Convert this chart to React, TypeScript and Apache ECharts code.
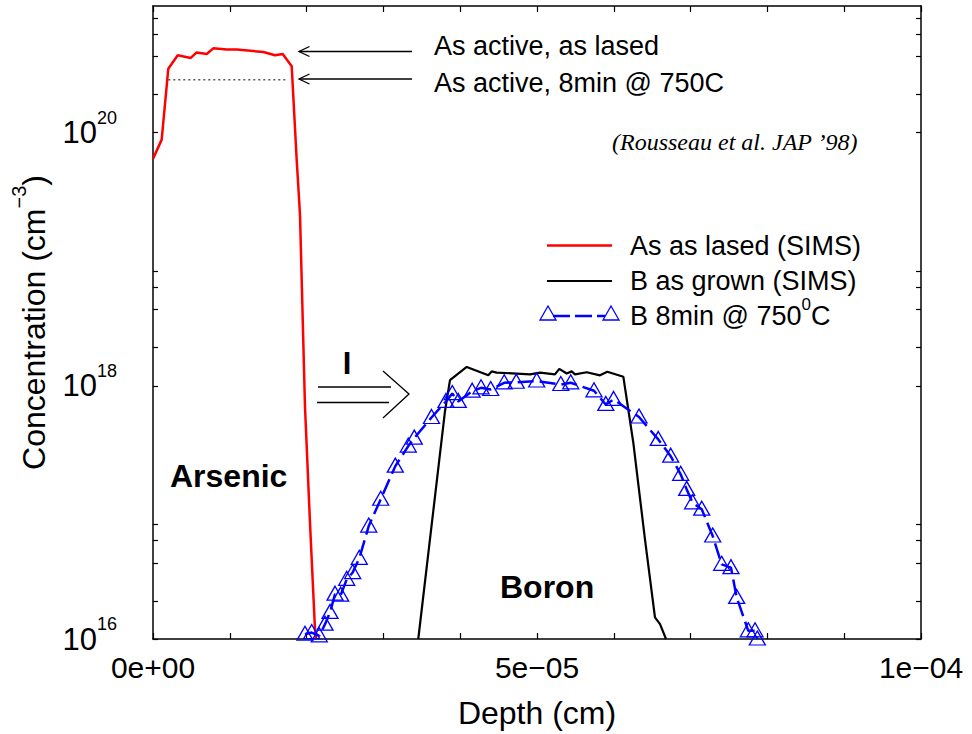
import React, { useEffect, useRef } from 'react';
import * as echarts from 'echarts';

// ---------- data ----------
// As as lased (SIMS)
const asLasedDepth = [0, 1.13e-6, 1.99e-6, 3.22e-6, 4.91e-6, 5.69e-6, 6.99e-6, 7.85e-6, 9.6e-6, 1.09e-5, 1.436e-5, 1.589e-5, 1.689e-5, 1.806e-5, 1.871e-5, 1.914e-5, 1.979e-5, 2.044e-5, 2.109e-5, 2.125e-5];
const asLasedConc = [6.2e19, 8.8e19, 3.19e20, 4.08e20, 3.89e20, 4.3e20, 4.18e20, 4.63e20, 4.53e20, 4.53e20, 4.33e20, 4.08e20, 4.18e20, 3.34e20, 6.1e19, 2.25e19, 6.85e17, 8.3e16, 1.2e16, 1.0e16];

// As active, 8min @ 750C (dotted level)
const asActiveDepth = [1.99e-6, 1.741e-5];
const asActiveConc = [2.61e20, 2.61e20];

// B as grown (SIMS)
const bGrownDepth = [3.454e-5, 3.802e-5, 3.867e-5, 4.085e-5, 4.366e-5, 4.41e-5, 4.475e-5, 4.736e-5, 4.909e-5, 5.039e-5, 5.234e-5, 5.29e-5, 5.387e-5, 5.452e-5, 5.495e-5, 5.647e-5, 5.82e-5, 5.915e-5, 6.124e-5, 6.254e-5, 6.406e-5, 6.536e-5, 6.602e-5, 6.68e-5];
const bGrownConc = [1.0e16, 6.3e17, 1.11e18, 1.41e18, 1.21e18, 1.3e18, 1.27e18, 1.25e18, 1.23e18, 1.27e18, 1.23e18, 1.36e18, 1.25e18, 1.3e18, 1.23e18, 1.28e18, 1.21e18, 1.29e18, 1.18e18, 3.55e17, 6.12e16, 1.48e16, 1.31e16, 1.0e16];

// B 8min @ 750C
const bAnnealDepth = [1.979e-5, 2.066e-5, 2.165e-5, 2.24e-5, 2.305e-5, 2.37e-5, 2.444e-5, 2.522e-5, 2.6e-5, 2.686e-5, 2.809e-5, 2.965e-5, 3.155e-5, 3.324e-5, 3.402e-5, 3.626e-5, 3.815e-5, 3.897e-5, 3.975e-5, 4.156e-5, 4.271e-5, 4.397e-5, 4.573e-5, 4.73e-5, 4.996e-5, 5.31e-5, 5.439e-5, 5.742e-5, 5.896e-5, 5.997e-5, 6.328e-5, 6.579e-5, 6.741e-5, 6.871e-5, 6.949e-5, 7.027e-5, 7.145e-5, 7.288e-5, 7.405e-5, 7.526e-5, 7.6e-5, 7.751e-5, 7.839e-5, 7.869e-5];
const bAnnealConc = [1.09e16, 1.125e16, 1.06e16, 1.31e16, 1.62e16, 2.26e16, 2.22e16, 2.96e16, 3.35e16, 4.34e16, 7.8e16, 1.27e17, 2.32e17, 3.34e17, 3.86e17, 5.62e17, 7.52e17, 8.69e17, 7.52e17, 9.06e17, 9.64e17, 9.35e17, 1.056e18, 1.067e18, 1.091e18, 1.024e18, 1.056e18, 9.13e17, 7.12e17, 7.8e17, 5.67e17, 3.77e17, 2.78e17, 2.0e17, 1.52e17, 1.19e17, 1.06e17, 6.51e16, 3.89e16, 3.66e16, 2.13e16, 1.16e16, 1.16e16, 1.0e16];

// axis ticks / labels
const xLabelValues = [0, 5e-5, 1e-4];
const xLabelTexts = ['0e+00', '5e\u221205', '1e\u221204'];
const yLabelValues = [1e16, 1e18, 1e20];
const yLabelExponents = ['16', '18', '20'];
const yTickMantissas = [1, 2, 4, 6, 8];
const yTickDecades = [1e16, 1e18, 1e20];

const zip = (xs: number[], ys: number[]) => xs.map((x, i) => [x, ys[i]]);

export default function App() {
  const ref = useRef<HTMLDivElement>(null);
  useEffect(() => {
    const chart = echarts.init(ref.current!, null, { renderer: 'svg' });
    const font = "'Liberation Sans', Arial, Helvetica, sans-serif";
    const yTickValues: number[] = [];
    yTickDecades.forEach((d) => yTickMantissas.forEach((m) => yTickValues.push(m * d)));

    const axisLine = { show: true, onZero: false, lineStyle: { color: '#000', width: 1.5 } };
    const xTick = { show: true, inside: true, length: 6, lineStyle: { color: '#000', width: 1.2 } };
    const yTick = { show: true, inside: true, length: 5, customValues: yTickValues, lineStyle: { color: '#000', width: 1.2 } };

    const xLabelFmt = (v: number) => {
      let best = 0;
      xLabelValues.forEach((xv, i) => {
        if (Math.abs(xv - v) < Math.abs(xLabelValues[best] - v)) best = i;
      });
      return xLabelTexts[best];
    };
    const yLabelFmt = (v: number) => {
      let best = 0;
      yLabelValues.forEach((yv, i) => {
        if (Math.abs(Math.log10(yv) - Math.log10(v)) < Math.abs(Math.log10(yLabelValues[best]) - Math.log10(v))) best = i;
      });
      return '{b|10}{e|' + yLabelExponents[best] + '}';
    };

    const option: any = {
      animation: false,
      backgroundColor: '#ffffff',
      textStyle: { fontFamily: font },
      grid: { left: 153, top: 6, right: 51, bottom: 94, containLabel: false },
      xAxis: [
        {
          type: 'value', min: 0, max: 1e-4, interval: 1e-5, position: 'bottom',
          axisLine, axisTick: xTick,
          axisLabel: { show: true, customValues: xLabelValues, formatter: xLabelFmt, margin: 13, fontSize: 30, color: '#000', fontFamily: font },
          splitLine: { show: false },
          name: 'Depth (cm)', nameLocation: 'middle', nameGap: 58,
          nameTextStyle: { fontSize: 32, color: '#000', fontFamily: font },
        },
        {
          type: 'value', min: 0, max: 1e-4, interval: 1e-5, position: 'top',
          axisLine, axisTick: xTick, axisLabel: { show: false }, splitLine: { show: false },
        },
      ],
      yAxis: [
        {
          type: 'log', logBase: 10, min: 1e16, max: 1e21, position: 'left',
          axisLine, axisTick: yTick, minorTick: { show: false },
          axisLabel: {
            show: true, customValues: yLabelValues, formatter: yLabelFmt, margin: 36, color: '#000',
            rich: {
              b: { fontSize: 31, lineHeight: 48, verticalAlign: 'middle', fontFamily: font, color: '#000' },
              e: { fontSize: 18, verticalAlign: 'top', fontFamily: font, color: '#000' },
            },
          },
          splitLine: { show: false },
          name: '{t|Concentration (cm}{s|\u22123}{t|)}', nameLocation: 'middle', nameRotate: 90, nameGap: 94,
          nameTextStyle: {
            color: '#000',
            rich: {
              t: { fontSize: 32, lineHeight: 50, verticalAlign: 'middle', fontFamily: font, color: '#000' },
              s: { fontSize: 20, verticalAlign: 'top', fontFamily: font, color: '#000' },
            },
          },
        },
        {
          type: 'log', logBase: 10, min: 1e16, max: 1e21, position: 'right',
          axisLine, axisTick: yTick, minorTick: { show: false }, axisLabel: { show: false }, splitLine: { show: false },
        },
      ],
      series: [
        {
          name: 'As active, 8min @ 750C', type: 'line', data: zip(asActiveDepth, asActiveConc), symbol: 'none', silent: true,
          lineStyle: { color: '#555', width: 1.5, type: [2, 3] },
        },
        {
          name: 'As as lased (SIMS)', type: 'line', data: zip(asLasedDepth, asLasedConc), symbol: 'none', silent: true,
          lineStyle: { color: '#ff0000', width: 2.5 },
        },
        {
          name: 'B as grown (SIMS)', type: 'line', data: zip(bGrownDepth, bGrownConc), symbol: 'none', silent: true,
          lineStyle: { color: '#000', width: 2.2 },
        },
        {
          name: 'B 8min @ 750C', type: 'line', data: zip(bAnnealDepth, bAnnealConc), silent: true,
          symbol: 'triangle', symbolSize: [16, 14], symbolOffset: [0, -1], showAllSymbol: true,
          itemStyle: { color: 'rgba(0,0,0,0)', borderColor: '#0000ff', borderWidth: 1.3 },
          lineStyle: { color: '#0000ff', width: 2.5, type: [16, 6] },
        },
      ],
      graphic: [
        // top annotations
        { type: 'line', shape: { x1: 412, y1: 51.5, x2: 299, y2: 51.5 }, style: { stroke: '#000', lineWidth: 1.3 } },
        { type: 'polyline', shape: { points: [[309.5, 46.5], [299, 51.5], [309.5, 56.5]] }, style: { stroke: '#000', fill: 'none', lineWidth: 1.3 } },
        { type: 'line', shape: { x1: 412, y1: 79, x2: 299, y2: 79 }, style: { stroke: '#000', lineWidth: 1.3 } },
        { type: 'polyline', shape: { points: [[309.5, 74], [299, 79], [309.5, 84]] }, style: { stroke: '#000', fill: 'none', lineWidth: 1.3 } },
        { type: 'text', x: 434, y: 46, style: { text: 'As active, as lased', fontSize: 27, fontFamily: font, fill: '#000', align: 'left', verticalAlign: 'middle' } },
        { type: 'text', x: 434, y: 83, style: { text: 'As active, 8min @ 750C', fontSize: 27, fontFamily: font, fill: '#000', align: 'left', verticalAlign: 'middle' } },
        { type: 'text', x: 612, y: 142, style: { text: '(Rousseau et al. JAP \u201998)', fontSize: 24, fontStyle: 'italic', fontFamily: "'Liberation Serif', 'Times New Roman', serif", fill: '#000', align: 'left', verticalAlign: 'middle' } },
        // legend
        { type: 'line', shape: { x1: 547, y1: 245.5, x2: 612, y2: 245.5 }, style: { stroke: '#ff0000', lineWidth: 2.5 } },
        { type: 'line', shape: { x1: 547, y1: 281, x2: 612, y2: 281 }, style: { stroke: '#000', lineWidth: 2.2 } },
        { type: 'line', shape: { x1: 553, y1: 316, x2: 605, y2: 316 }, style: { stroke: '#0000ff', lineWidth: 2.5, lineDash: [17, 5] } },
        { type: 'polygon', shape: { points: [[548, 306], [556, 320], [540, 320]] }, style: { stroke: '#0000ff', fill: 'none', lineWidth: 1.3 } },
        { type: 'polygon', shape: { points: [[611, 306], [619, 320], [603, 320]] }, style: { stroke: '#0000ff', fill: 'none', lineWidth: 1.3 } },
        { type: 'text', x: 630, y: 245.5, style: { text: 'As as lased (SIMS)', fontSize: 27, fontFamily: font, fill: '#000', align: 'left', verticalAlign: 'middle' } },
        { type: 'text', x: 630, y: 281, style: { text: 'B as grown (SIMS)', fontSize: 27, fontFamily: font, fill: '#000', align: 'left', verticalAlign: 'middle' } },
        {
          type: 'text', x: 630, y: 316,
          style: {
            text: '{n|B 8min @ 750}{s|0}{n|C}', fill: '#000', align: 'left', verticalAlign: 'middle',
            rich: {
              n: { fontSize: 27, lineHeight: 40, verticalAlign: 'middle', fontFamily: font, fill: '#000' },
              s: { fontSize: 17, verticalAlign: 'top', fontFamily: font, fill: '#000' },
            },
          },
        },
        // region labels
        { type: 'text', x: 170, y: 476, style: { text: 'Arsenic', fontSize: 32, fontWeight: 'bold', fontFamily: font, fill: '#000', align: 'left', verticalAlign: 'middle' } },
        { type: 'text', x: 500, y: 587, style: { text: 'Boron', fontSize: 32, fontWeight: 'bold', fontFamily: font, fill: '#000', align: 'left', verticalAlign: 'middle' } },
        { type: 'text', x: 347, y: 363, style: { text: 'I', fontSize: 31, fontWeight: 'bold', fontFamily: font, fill: '#000', align: 'center', verticalAlign: 'middle' } },
        // double arrow
        { type: 'line', shape: { x1: 318, y1: 387, x2: 391, y2: 387 }, style: { stroke: '#000', lineWidth: 1.3 } },
        { type: 'line', shape: { x1: 317, y1: 402.5, x2: 389, y2: 402.5 }, style: { stroke: '#000', lineWidth: 1.3 } },
        { type: 'polyline', shape: { points: [[383, 371], [409, 394], [383, 418]] }, style: { stroke: '#000', fill: 'none', lineWidth: 1.3 } },
      ],
    };
    chart.setOption(option);
    return () => chart.dispose();
  }, []);
  return (
    <div
      ref={ref}
      style={{ position: 'fixed', left: 0, top: 0, width: 972, height: 734, background: '#fff' }}
    />
  );
}
